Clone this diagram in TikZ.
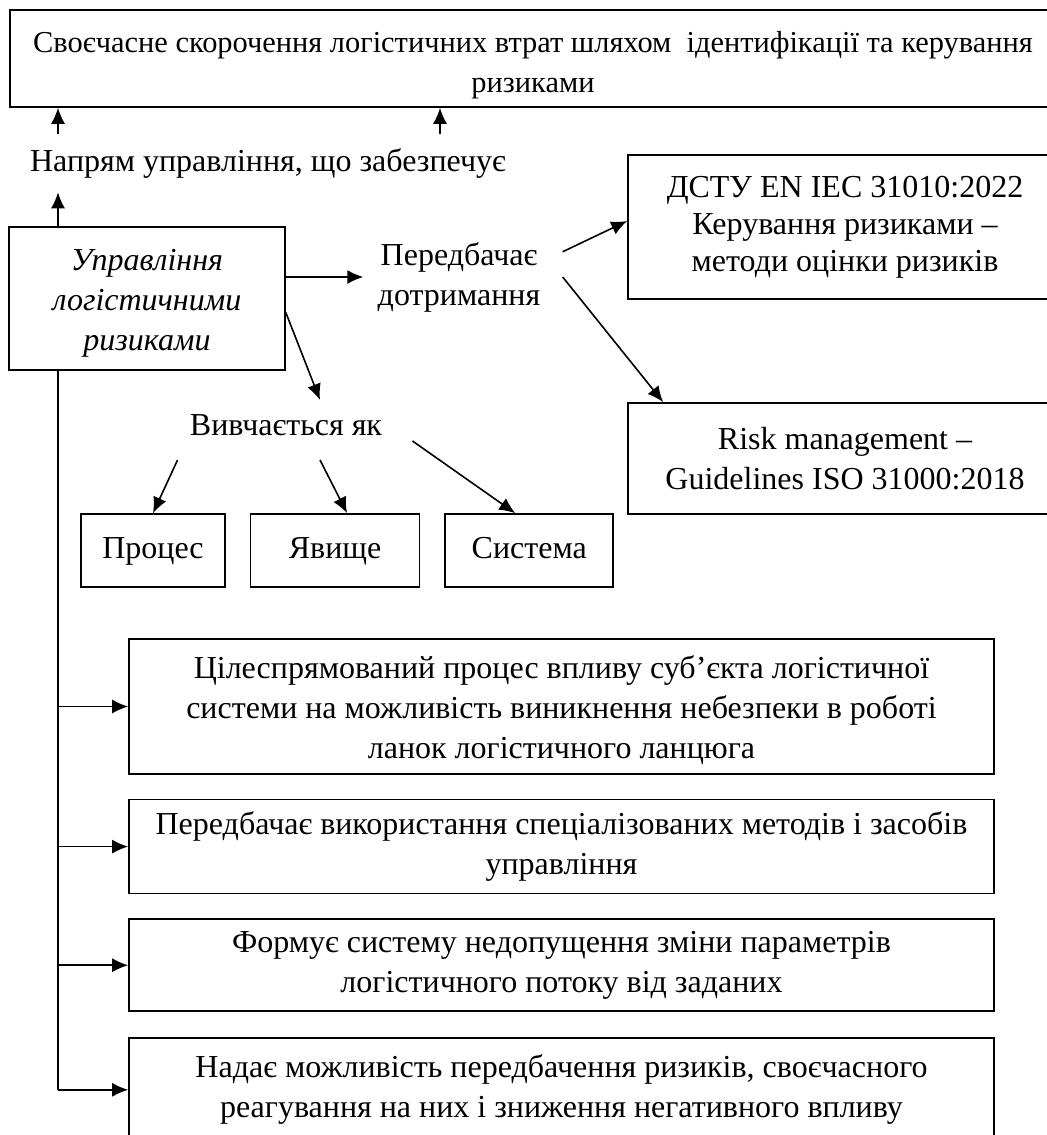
\documentclass[tikz,border=0pt]{standalone}
\usepackage{fontspec}
\setmainfont{Liberation Serif}
\usepackage{tikz}
\usetikzlibrary{arrows.meta}
\usetikzlibrary{calc}
\usetikzlibrary{positioning}
\tikzstyle{block}    = [rectangle, draw, line width=0.8pt, align=center, inner sep=0pt]
\tikzstyle{small}    = [block, minimum height=36.5pt, text height=11pt, text depth=3.5pt]
\tikzstyle{caption}  = [align=center, inner sep=7pt]
\tikzstyle{line}     = [draw, line width=0.8pt, -{Latex[length=8pt,width=7pt]}]

\begin{document}
\begin{tikzpicture}[x=0.5pt, y=-0.5pt, font=\fontsize{16}{20}\selectfont]
        \useasboundingbox (0,0) rectangle (1046,1135);
        \node [block, minimum width=523pt, minimum height=48.5pt, font=\fontsize{15.2}{20}\selectfont] (goal) at (533,58.5) {\rule{0pt}{17pt}Своєчасне скорочення логістичних втрат шляхом~ ідентифікації та керування\\ризиками};
        \node [caption] (dir) at (268,163) {Напрям управління, що забезпечує};
        \node [block, minimum width=138pt, minimum height=71.5pt, font=\fontsize{16}{20}\selectfont\itshape] (mgmt) at (147,298.5) {\rule{0pt}{15pt}Управління\\логістичними\\ризиками};
        \node [caption] (pered) at (459,277) {Передбачає\\дотримання};
        \node [block, minimum width=217pt, minimum height=72pt, font=\fontsize{16}{18.5}\selectfont] (dstu) at (845,227) {ДСТУ EN IEC 31010:2022\\Керування ризиками –\\методи оцінки ризиків};
        \node [block, minimum width=217pt, minimum height=55.5pt] (risk) at (845,458.5) {Risk management –\\Guidelines ISO 31000:2018};
        \node [caption] (study) at (286,425) {Вивчається як};
        \node [small, minimum width=72pt] (proc) at (153,550.5) {Процес};
        \node [small, minimum width=84.5pt, right=12pt of proc] (yav) {Явище};
        \node [small, minimum width=84pt, right=12pt of yav] (sys) {Система};
        \node [block, minimum width=432.5pt, minimum height=67.5pt] (b1) at (561.5,706.5) {\rule{0pt}{15pt}Цілеспрямований процес впливу суб’єкта логістичної\\системи на можливість виникнення небезпеки в роботі\\ланок логістичного ланцюга};
        \node [block, minimum width=432.5pt, minimum height=47pt, below=12pt of b1] (b2) {Передбачає використання спеціалізованих методів і засобів\\управління};
        \node [block, minimum width=432.5pt, minimum height=46pt, below=12pt of b2] (b3) {Формує систему недопущення зміни параметрів\\логістичного потоку від заданих};
        \node [block, minimum width=432.5pt, minimum height=52pt, below=12.5pt of b3] (b4) {Надає можливість передбачення ризиків, своєчасного\\реагування на них і зниження негативного впливу};
        \coordinate (trunk) at (58,0);
        \coordinate (up2) at (440,0);
        \path [line] (dir.north -| trunk) -- (goal.south -| trunk);
        \path [line] (dir.north -| up2) -- (goal.south -| up2);
        \path [line] (mgmt.north -| trunk) -- (dir.south -| trunk);
        \path [line] (mgmt.east |- pered.west) -- (pered.west);
        \path [line] ([xshift=4pt,yshift=-12pt]pered.north east) -- ([yshift=3pt]dstu.west);
        \path [line] ([xshift=4pt]pered.east) -- ([xshift=18pt]risk.north west);
        \path [line] ([yshift=-7pt]mgmt.east) -- ([xshift=17pt]study.north);
        \path [line] ([xshift=1pt,yshift=-5pt]study.south west) -- (proc.north);
        \path [line] ([xshift=17pt,yshift=-5pt]study.south) -- ([xshift=6pt]yav.north);
        \path [line] ([xshift=8pt,yshift=-8pt]study.east) -- ([xshift=-7pt]sys.north);
        \draw [line width=0.8pt] (mgmt.south -| trunk) -- (trunk |- b4.west);
        \foreach \b in {b1,b2,b3,b4}
            \path [line] (trunk |- \b.west) -- (\b.west);
    \end{tikzpicture}
\end{document}
